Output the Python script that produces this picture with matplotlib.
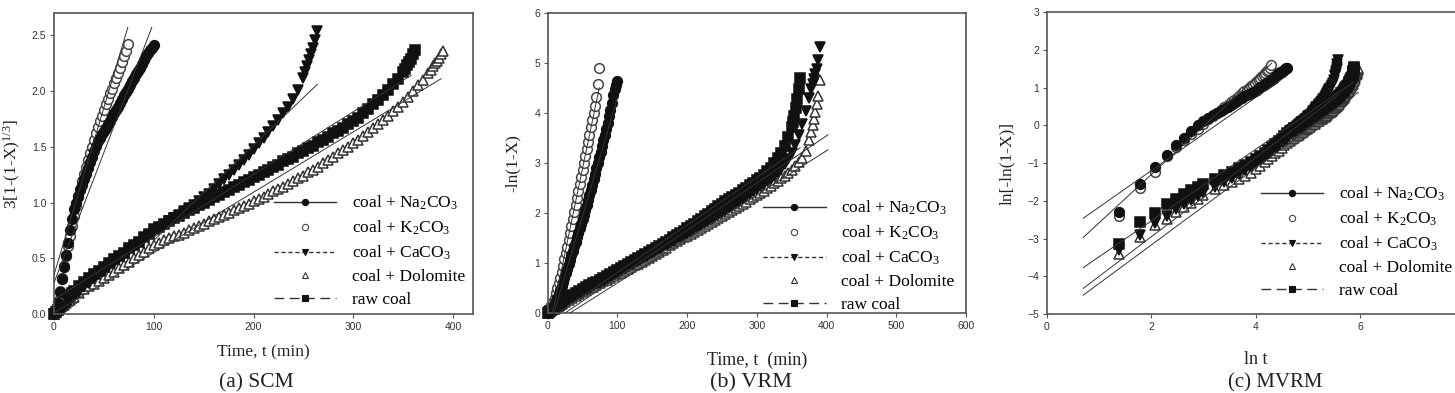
import numpy as np
import matplotlib.pyplot as plt
from matplotlib.lines import Line2D

plt.rcParams['font.family'] = 'Liberation Sans'
plt.rcParams['mathtext.fontset'] = 'custom'
plt.rcParams['mathtext.rm'] = 'Liberation Serif'
plt.rcParams['mathtext.it'] = 'Liberation Serif:italic'

labels = ['coal + Na$_2$CO$_3$', 'coal + K$_2$CO$_3$', 'coal + CaCO$_3$',
          'coal + Dolomite', 'raw coal']

# sampling times (min) of each sample
t_na = list(range(0, 101, 2))
t_k = list(range(0, 75, 2))
t_ca = list(range(0, 21, 2)) + list(range(25, 251, 5)) + list(range(252, 265, 2))
t_ca_b = list(range(0, 21, 2)) + list(range(25, 376, 5)) + list(range(378, 391, 2))
t_dol = list(range(0, 21, 2)) + list(range(25, 376, 5)) + list(range(378, 391, 2))
t_raw = list(range(0, 21, 2)) + list(range(25, 351, 5)) + list(range(352, 363, 2))

# (a) SCM : 3[1-(1-X)^1/3]
scm_na = [0.00, 0.04, 0.10, 0.20, 0.31, 0.42, 0.53, 0.64, 0.75, 0.85,
          0.94, 1.00, 1.06, 1.11, 1.16, 1.21, 1.26, 1.31, 1.36, 1.41,
          1.46, 1.51, 1.55, 1.58, 1.61, 1.64, 1.67, 1.70, 1.73, 1.77,
          1.80, 1.83, 1.86, 1.89, 1.93, 1.96, 1.99, 2.02, 2.05, 2.09,
          2.12, 2.15, 2.18, 2.21, 2.24, 2.28, 2.31, 2.34, 2.37, 2.39, 2.41]
scm_k = [0.00, 0.05, 0.12, 0.21, 0.32, 0.43, 0.52, 0.61, 0.70, 0.79,
         0.88, 0.97, 1.05, 1.12, 1.19, 1.26, 1.32, 1.38, 1.44, 1.50,
         1.56, 1.62, 1.68, 1.73, 1.78, 1.83, 1.88, 1.93, 1.98, 2.02,
         2.07, 2.12, 2.16, 2.21, 2.26, 2.31, 2.36, 2.42]
scm_ca = [0.00, 0.015, 0.037, 0.055, 0.075, 0.09, 0.105, 0.12, 0.135, 0.15, 0.165,
          0.20, 0.24, 0.28, 0.32, 0.36, 0.39, 0.43, 0.46, 0.50, 0.53,
          0.57, 0.60, 0.64, 0.67, 0.71, 0.74, 0.77, 0.80, 0.83, 0.86,
          0.89, 0.92, 0.95, 0.98, 1.01, 1.05, 1.08, 1.12, 1.17, 1.21,
          1.25, 1.29, 1.34, 1.38, 1.43, 1.48, 1.53, 1.58, 1.63, 1.69,
          1.74, 1.80, 1.86, 1.93, 2.01, 2.12,
          2.17, 2.22, 2.28, 2.33, 2.39, 2.46, 2.54]
scm_dol = [0.00, 0.015, 0.035, 0.05, 0.07, 0.085, 0.10, 0.115, 0.13, 0.14, 0.155,
           0.19, 0.22, 0.25, 0.27, 0.30, 0.32, 0.35, 0.38, 0.41, 0.44,
           0.47, 0.50, 0.53, 0.56, 0.59, 0.62, 0.64, 0.66, 0.68, 0.70,
           0.71, 0.73, 0.75, 0.77, 0.79, 0.81, 0.83, 0.85, 0.87, 0.89,
           0.91, 0.93, 0.95, 0.97, 0.99, 1.01, 1.03, 1.05, 1.08, 1.10,
           1.12, 1.14, 1.17, 1.19, 1.22, 1.24, 1.27, 1.29, 1.32, 1.35,
           1.38, 1.41, 1.44, 1.47, 1.50, 1.53, 1.56, 1.60, 1.63, 1.67,
           1.70, 1.74, 1.78, 1.82, 1.86, 1.90, 1.95, 2.00, 2.05, 2.10,
           2.16,
           2.19, 2.22, 2.25, 2.27, 2.30, 2.33, 2.36]
scm_raw = [0.00, 0.02, 0.04, 0.07, 0.09, 0.11, 0.13, 0.15, 0.17, 0.19, 0.21,
           0.25, 0.29, 0.32, 0.36, 0.39, 0.42, 0.46, 0.49, 0.52, 0.55,
           0.59, 0.62, 0.65, 0.69, 0.72, 0.76, 0.78, 0.81, 0.83, 0.86,
           0.88, 0.91, 0.93, 0.95, 0.98, 1.00, 1.02, 1.05, 1.07, 1.09,
           1.11, 1.14, 1.16, 1.18, 1.20, 1.23, 1.25, 1.27, 1.29, 1.32,
           1.34, 1.37, 1.39, 1.41, 1.44, 1.46, 1.49, 1.51, 1.54, 1.56,
           1.59, 1.62, 1.64, 1.67, 1.70, 1.73, 1.76, 1.80, 1.84, 1.88,
           1.92, 1.96, 2.01, 2.06, 2.11, 2.17,
           2.20, 2.23, 2.26, 2.29, 2.33, 2.37]

# (b) VRM : -ln(1-X)
vrm_na = [0.00, 0.03, 0.06, 0.10, 0.14, 0.19, 0.24, 0.30, 0.37, 0.45,
          0.53, 0.61, 0.70, 0.79, 0.88, 0.97, 1.06, 1.15, 1.24, 1.33,
          1.42, 1.51, 1.60, 1.69, 1.78, 1.87, 1.96, 2.05, 2.15, 2.25,
          2.35, 2.45, 2.56, 2.67, 2.78, 2.89, 3.00, 3.11, 3.22, 3.33,
          3.45, 3.56, 3.68, 3.80, 3.93, 4.06, 4.20, 4.35, 4.47, 4.56, 4.64]
vrm_k = [0.00, 0.03, 0.08, 0.14, 0.21, 0.30, 0.40, 0.50, 0.59, 0.69,
         0.81, 0.94, 1.07, 1.19, 1.32, 1.45, 1.59, 1.73, 1.87, 2.01,
         2.15, 2.29, 2.43, 2.57, 2.71, 2.85, 2.99, 3.13, 3.27, 3.41,
         3.56, 3.71, 3.86, 4.00, 4.14, 4.32, 4.58, 4.90]
vrm_ca = [0.00, 0.02, 0.03, 0.05, 0.07, 0.09, 0.11, 0.13, 0.15, 0.17, 0.19,
          0.24, 0.28, 0.32, 0.36, 0.40, 0.44, 0.48, 0.52, 0.56, 0.60,
          0.64, 0.67, 0.71, 0.75, 0.79, 0.82, 0.86, 0.90, 0.94, 0.98,
          1.01, 1.05, 1.09, 1.13, 1.17, 1.21, 1.25, 1.29, 1.33, 1.37,
          1.41, 1.45, 1.49, 1.52, 1.56, 1.60, 1.63, 1.67, 1.71, 1.75,
          1.79, 1.83, 1.87, 1.91, 1.95, 2.00, 2.04, 2.09, 2.13, 2.18,
          2.23, 2.28, 2.33, 2.38, 2.43, 2.48, 2.53, 2.58, 2.63, 2.68,
          2.74, 2.81, 2.88, 2.97, 3.08, 3.20, 3.36, 3.55, 3.78, 4.03,
          4.30,
          4.47, 4.58, 4.68, 4.78, 4.88, 5.05, 5.32]
vrm_dol = [0.00, 0.01, 0.03, 0.05, 0.07, 0.08, 0.10, 0.12, 0.14, 0.16, 0.17,
           0.22, 0.26, 0.30, 0.34, 0.38, 0.41, 0.45, 0.49, 0.52, 0.56,
           0.59, 0.63, 0.66, 0.70, 0.73, 0.77, 0.80, 0.84, 0.88, 0.91,
           0.95, 0.98, 1.02, 1.06, 1.10, 1.14, 1.18, 1.22, 1.26, 1.30,
           1.35, 1.39, 1.43, 1.47, 1.51, 1.54, 1.58, 1.62, 1.66, 1.69,
           1.73, 1.77, 1.81, 1.85, 1.89, 1.93, 1.97, 2.01, 2.06, 2.10,
           2.14, 2.18, 2.22, 2.27, 2.31, 2.35, 2.40, 2.44, 2.49, 2.54,
           2.59, 2.64, 2.69, 2.74, 2.80, 2.86, 2.93, 3.01, 3.10, 3.24,
           3.45,
           3.62, 3.75, 3.88, 4.02, 4.17, 4.34, 4.66]
vrm_raw = [0.00, 0.02, 0.04, 0.07, 0.09, 0.11, 0.13, 0.16, 0.18, 0.20, 0.22,
           0.27, 0.31, 0.35, 0.39, 0.43, 0.47, 0.51, 0.55, 0.59, 0.62,
           0.66, 0.70, 0.74, 0.78, 0.82, 0.86, 0.90, 0.94, 0.98, 1.02,
           1.06, 1.10, 1.14, 1.18, 1.22, 1.26, 1.30, 1.34, 1.38, 1.42,
           1.46, 1.51, 1.55, 1.60, 1.64, 1.69, 1.74, 1.78, 1.83, 1.88,
           1.93, 1.98, 2.03, 2.08, 2.13, 2.18, 2.23, 2.27, 2.31, 2.36,
           2.40, 2.45, 2.50, 2.55, 2.60, 2.65, 2.70, 2.76, 2.83, 2.90,
           2.99, 3.09, 3.20, 3.34, 3.51, 3.72,
           3.82, 3.94, 4.10, 4.28, 4.48, 4.69]

# (c) MVRM : ln[-ln(1-X)], from t = 4 min on
mvrm_na = [-2.29, -1.55, -1.11, -0.79, -0.52, -0.32, -0.14, 0.01,
           0.12, 0.20, 0.27, 0.33, 0.38, 0.44, 0.49, 0.54, 0.59, 0.64,
           0.69, 0.74, 0.78, 0.81, 0.84, 0.86, 0.89, 0.92, 0.95, 0.98,
           1.01, 1.04, 1.07, 1.09, 1.13, 1.16, 1.18, 1.21, 1.24, 1.27,
           1.30, 1.33, 1.36, 1.38, 1.41, 1.43, 1.45, 1.47, 1.49, 1.51, 1.53]
mvrm_k = [-2.40, -1.67, -1.23, -0.80, -0.56, -0.38, -0.23, -0.09,
          0.04, 0.16, 0.26, 0.34, 0.42, 0.49, 0.55, 0.61, 0.67, 0.73,
          0.79, 0.85, 0.90, 0.95, 0.99, 1.04, 1.08, 1.13, 1.18, 1.21,
          1.26, 1.30, 1.34, 1.39, 1.44, 1.48, 1.53, 1.60]
mvrm_ca = [-3.31, -2.90, -2.60, -2.40, -2.22, -2.08, -1.97, -1.87, -1.78,
           -1.62, -1.50, -1.39, -1.28, -1.18, -1.08, -0.98, -0.89, -0.80, -0.71,
           -0.62, -0.54, -0.46, -0.39, -0.32, -0.25, -0.19, -0.13, -0.07, -0.02,
           0.03, 0.08, 0.13, 0.17, 0.21, 0.26, 0.29, 0.34, 0.39, 0.44,
           0.48, 0.52, 0.57, 0.61, 0.66, 0.71, 0.76, 0.81, 0.86, 0.91,
           0.96, 1.01, 1.07, 1.13, 1.20, 1.30,
           1.35, 1.40, 1.45, 1.50, 1.56, 1.64, 1.73]
mvrm_dol = [-3.40, -2.95, -2.64, -2.47, -2.29, -2.16, -2.05, -1.95, -1.85,
            -1.68, -1.58, -1.49, -1.41, -1.33, -1.25, -1.16, -1.07, -0.98, -0.90,
            -0.82, -0.74, -0.67, -0.60, -0.53, -0.47, -0.42, -0.37, -0.33, -0.29,
            -0.25, -0.21, -0.17, -0.13, -0.10, -0.06, -0.03, 0.00, 0.03, 0.05,
            0.08, 0.11, 0.13, 0.16, 0.18, 0.21, 0.23, 0.26, 0.29, 0.32,
            0.34, 0.36, 0.39, 0.42, 0.45, 0.47, 0.50, 0.52, 0.55, 0.58,
            0.61, 0.64, 0.67, 0.70, 0.73, 0.76, 0.79, 0.83, 0.86, 0.89,
            0.92, 0.96, 0.99, 1.03, 1.07, 1.10, 1.15, 1.19, 1.24, 1.28,
            1.34,
            1.37, 1.40, 1.43, 1.45, 1.47, 1.50, 1.53]
mvrm_raw = [-3.15, -2.55, -2.31, -2.09, -1.96, -1.82, -1.72, -1.62, -1.54,
            -1.42, -1.32, -1.23, -1.13, -1.05, -0.97, -0.88, -0.80, -0.72, -0.64,
            -0.56, -0.49, -0.42, -0.35, -0.28, -0.21, -0.16, -0.11, -0.07, -0.03,
            0.01, 0.05, 0.08, 0.11, 0.15, 0.20, 0.22, 0.26, 0.28, 0.30,
            0.33, 0.36, 0.38, 0.41, 0.43, 0.46, 0.48, 0.50, 0.52, 0.55,
            0.57, 0.60, 0.62, 0.64, 0.67, 0.69, 0.72, 0.74, 0.77, 0.79,
            0.82, 0.85, 0.86, 0.89, 0.92, 0.95, 0.98, 1.01, 1.05, 1.08,
            1.12, 1.16, 1.20, 1.25, 1.29, 1.35,
            1.38, 1.41, 1.44, 1.46, 1.50, 1.54]

# fitted straight lines (end points), order: Na, K, CaCO3, Dolomite, raw
fit_a_x = [[0, 98], [0, 74], [100, 264], [0, 388], [0, 358]]
fit_a_y = [[0.28, 2.57], [0.35, 2.57], [0.66, 2.06], [0.01, 2.11], [0.13, 2.14]]
fit_b_x = [[9, 100], [7, 74], [25, 402], [32, 402], [15, 362]]
fit_b_y = [[0.0, 4.3], [0.0, 4.5], [0.0, 3.56], [0.0, 3.26], [0.0, 3.3]]
fit_c_x = [[0.7, 4.57], [0.7, 4.31], [0.7, 5.58], [0.7, 5.97], [0.7, 5.89]]
fit_c_y = [[-2.46, 1.29], [-2.97, 1.65], [-4.32, 0.80], [-4.50, 0.88], [-3.77, 1.16]]

markers = ['o', 'o', 'v', '^', 's']
faces = ['#111111', 'white', '#111111', 'white', '#111111']
edges = ['#111111', '#444444', '#111111', '#333333', '#111111']
leg_ls = ['-', 'none', (0, (3, 2)), 'none', (0, (7, 4))]
draw_order = [3, 4, 2, 1, 0]

serif = 'Liberation Serif'


def draw_panel(ax, xs, ys, fx, fy):
    for i in draw_order:
        ax.plot(xs[i], ys[i], ls='none', marker=markers[i], ms=7.0,
                mfc=faces[i], mec=edges[i], mew=1.1, clip_on=False, zorder=2)
    for i in range(5):
        ax.plot(fx[i], fy[i], color='#333333', lw=0.7, zorder=3)
    handles = [Line2D([], [], color='#333333', lw=1.0, ls=leg_ls[i],
                      marker=markers[i], ms=4.5, mfc=faces[i], mec=edges[i], mew=0.8)
               for i in range(5)]
    for s in ax.spines.values():
        s.set_color('#555555')
        s.set_linewidth(1.2)
    ax.tick_params(direction='out', length=3, width=0.8, color='#555555',
                   labelsize=7.5, labelcolor='#333333', pad=2.5)
    return handles


fig = plt.figure(figsize=(14.55, 3.93), dpi=100)
ax_a = fig.add_axes([0.0371, 0.201, 0.288, 0.766])
ax_b = fig.add_axes([0.3764, 0.2036, 0.2875, 0.764])
ax_c = fig.add_axes([0.7194, 0.201, 0.287, 0.7677])

leg_kw = dict(loc='lower left', frameon=False, prop={'family': serif, 'size': 12.5},
              handlelength=3.6, handletextpad=0.9, labelspacing=0.38,
              borderpad=0, borderaxespad=0, numpoints=1)

# (a)
h = draw_panel(ax_a, [t_na, t_k, t_ca, t_dol, t_raw],
               [scm_na, scm_k, scm_ca, scm_dol, scm_raw], fit_a_x, fit_a_y)
ax_a.set_xlim(0, 420)
ax_a.set_ylim(0, 2.7)
ax_a.set_xticks([0, 100, 200, 300, 400])
ax_a.set_yticks([0, 0.5, 1.0, 1.5, 2.0, 2.5])
ax_a.set_yticklabels(['0.0', '0.5', '1.0', '1.5', '2.0', '2.5'])
ax_a.legend(h, labels, bbox_to_anchor=(0.525, 0.02), **leg_kw)
ax_a.text(-0.10, 0.5, '3[1-(1-X)$^{1/3}$]', transform=ax_a.transAxes, rotation=90,
          ha='center', va='center', fontsize=12.5, family=serif, color='#222222')
ax_a.text(0.5, -0.126, 'Time, t (min)', transform=ax_a.transAxes,
          ha='center', va='center', fontsize=12.5, family=serif, color='#222222')
ax_a.text(0.484, -0.229, '(a) SCM', transform=ax_a.transAxes,
          ha='center', va='center', fontsize=15.5, family=serif, color='#222222')

# (b)
h = draw_panel(ax_b, [t_na, t_k, t_ca_b, t_dol, t_raw],
               [vrm_na, vrm_k, vrm_ca, vrm_dol, vrm_raw], fit_b_x, fit_b_y)
ax_b.set_xlim(0, 600)
ax_b.set_ylim(0, 6)
ax_b.set_xticks([0, 100, 200, 300, 400, 500, 600])
ax_b.set_yticks([0, 1, 2, 3, 4, 5, 6])
ax_b.legend(h, labels, bbox_to_anchor=(0.515, 0.0), **leg_kw)
ax_b.text(-0.083, 0.5, '-ln(1-X)', transform=ax_b.transAxes, rotation=90,
          ha='center', va='center', fontsize=12.5, family=serif, color='#222222')
ax_b.text(0.5, -0.157, 'Time, t  (min)', transform=ax_b.transAxes,
          ha='center', va='center', fontsize=13, family=serif, color='#222222')
ax_b.text(0.485, -0.233, '(b) VRM', transform=ax_b.transAxes,
          ha='center', va='center', fontsize=16, family=serif, color='#222222')

# (c)
lt = [np.log(t_na[2:]), np.log(t_k[2:]), np.log(t_ca[2:]),
      np.log(t_dol[2:]), np.log(t_raw[2:])]
h = draw_panel(ax_c, lt, [mvrm_na, mvrm_k, mvrm_ca, mvrm_dol, mvrm_raw],
               fit_c_x, fit_c_y)
ax_c.set_xlim(0, 8)
ax_c.set_ylim(-5, 3)
ax_c.set_xticks([0, 2, 4, 6])
ax_c.set_yticks([-5, -4, -3, -2, -1, 0, 1, 2, 3])
ax_c.legend(h, labels, bbox_to_anchor=(0.513, 0.05), **leg_kw)
ax_c.text(-0.096, 0.5, 'ln[-ln(1-X)]', transform=ax_c.transAxes, rotation=90,
          ha='center', va='center', fontsize=12.5, family=serif, color='#222222')
ax_c.text(0.5, -0.152, 'ln t', transform=ax_c.transAxes,
          ha='center', va='center', fontsize=13, family=serif, color='#222222')
ax_c.text(0.547, -0.229, '(c) MVRM', transform=ax_c.transAxes,
          ha='center', va='center', fontsize=15, family=serif, color='#222222')

fig.savefig('out.png', dpi=100)
